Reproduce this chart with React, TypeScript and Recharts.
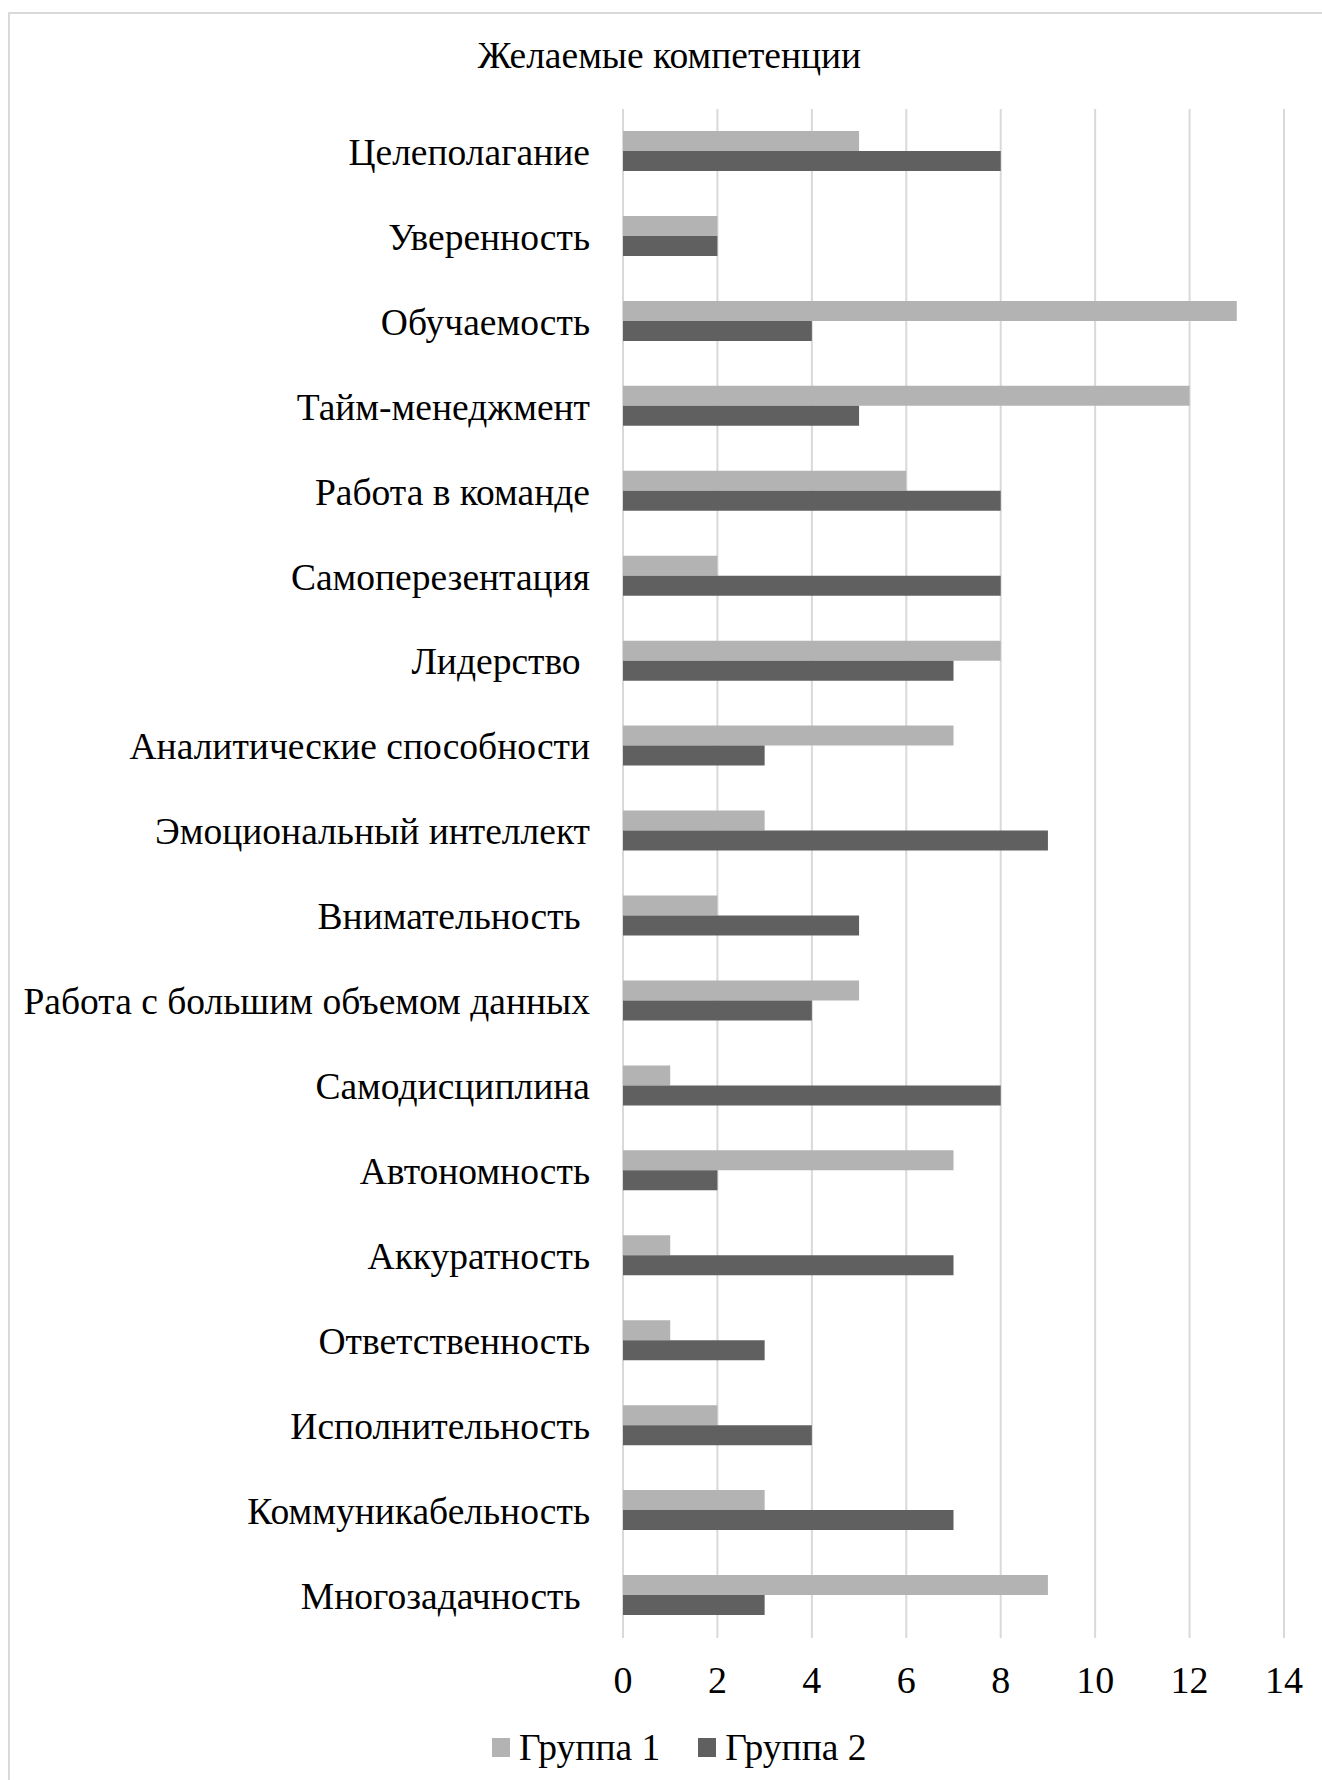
import React from 'react';
import { BarChart, Bar, XAxis, YAxis, CartesianGrid, Legend } from 'recharts';

// Competencies (top to bottom) and answer counts for the two groups
const competencies = [
  'Целеполагание',
  'Уверенность',
  'Обучаемость',
  'Тайм-менеджмент',
  'Работа в команде',
  'Самоперезентация',
  'Лидерство\u00A0',
  'Аналитические способности',
  'Эмоциональный интеллект',
  'Внимательность\u00A0',
  'Работа с большим объемом данных',
  'Самодисциплина',
  'Автономность',
  'Аккуратность',
  'Ответственность',
  'Исполнительность',
  'Коммуникабельность',
  'Многозадачность\u00A0',
];
const group1 = [5, 2, 13, 12, 6, 2, 8, 7, 3, 2, 5, 1, 7, 1, 1, 2, 3, 9];
const group2 = [8, 2, 4, 5, 8, 8, 7, 3, 9, 5, 4, 8, 2, 7, 3, 4, 7, 3];
const xTicks = [0, 2, 4, 6, 8, 10, 12, 14];
const seriesNames = ['Группа 1', 'Группа 2'];
const seriesColors = ['#b3b3b3', '#606060'];
const title = 'Желаемые компетенции';

const data = competencies.map((name, i) => ({ name, g1: group1[i], g2: group2[i] }));

const FONT = '"Liberation Serif", "Times New Roman", serif';

const LegendContent = () => (
  <div style={{ display: 'flex', alignItems: 'center', fontFamily: FONT, fontSize: 37.5, lineHeight: 1, color: '#000' }}>
    {seriesNames.map((n, i) => (
      <div key={n} style={{ display: 'flex', alignItems: 'center', marginRight: i === 0 ? 38 : 0 }}>
        <span style={{ display: 'inline-block', width: 18, height: 19, background: seriesColors[i], marginRight: 9 }} />
        <span>{n}</span>
      </div>
    ))}
  </div>
);

export default function App() {
  return (
    <div style={{ position: 'absolute', left: 0, top: 0, width: 1322, height: 1780, background: '#fff', overflow: 'hidden' }}>
      <div
        style={{
          position: 'absolute',
          left: 8,
          top: 12,
          width: 1322,
          height: 1780,
          borderLeft: '2px solid #d9d9d9',
          borderTop: '2px solid #d9d9d9',
          boxSizing: 'border-box',
        }}
      />
      <div
        style={{
          position: 'absolute',
          left: 0,
          top: 37,
          width: 1339,
          textAlign: 'center',
          fontFamily: FONT,
          fontSize: 37.5,
          lineHeight: 1,
          color: '#000',
        }}
      >
        {title}
      </div>
      <div style={{ position: 'absolute', left: 0, top: 0 }}>
        <BarChart
          width={1322}
          height={1780}
          data={data}
          layout="vertical"
          margin={{ top: 109, right: 38, left: 0, bottom: 82 }}
          barGap={0}
          barSize={20}
        >
          <CartesianGrid horizontal={false} stroke="#d9d9d9" strokeWidth={2} />
          <XAxis
            type="number"
            domain={[0, 14]}
            ticks={xTicks}
            axisLine={false}
            tickLine={false}
            height={60}
            tickMargin={22}
            interval={0}
            tick={{ fontFamily: FONT, fontSize: 38, fill: '#000' }}
          />
          <YAxis
            type="category"
            dataKey="name"
            width={623}
            axisLine={false}
            tickLine={false}
            tickMargin={27}
            interval={0}
            tick={{ fontFamily: FONT, fontSize: 37.5, fill: '#000' }}
          />
          <Legend
            layout="horizontal"
            verticalAlign="middle"
            align="center"
            content={<LegendContent />}
            wrapperStyle={{ position: 'absolute', left: 492, top: 1729, width: 500, height: 40 }}
          />
          <Bar dataKey="g1" name={seriesNames[0]} fill={seriesColors[0]} isAnimationActive={false} />
          <Bar dataKey="g2" name={seriesNames[1]} fill={seriesColors[1]} isAnimationActive={false} />
        </BarChart>
      </div>
    </div>
  );
}
